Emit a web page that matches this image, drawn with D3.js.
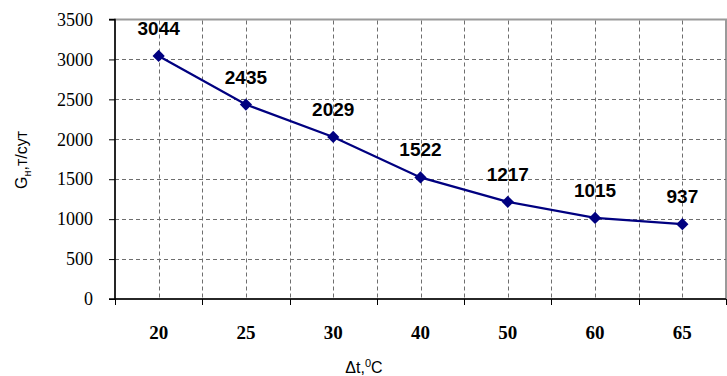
<!DOCTYPE html>
<html><head><meta charset="utf-8">
<script src="https://cdn.jsdelivr.net/npm/d3@7"></script>
<style>body{margin:0;background:#fff}svg{display:block}</style>
</head><body>
<svg id="c" width="727" height="376"></svg>
<script>
const categories = ["20","25","30","40","50","60","65"];
const values = [3044,2435,2029,1522,1217,1015,937];
const yTicks = [0,500,1000,1500,2000,2500,3000,3500];

const svg = d3.select("#c");
const L=115, R=726, T=19.5, B=299;
const x = d3.scaleBand().domain(categories).range([L,R]).padding(0);
const y = d3.scaleLinear().domain([0,3500]).range([B,T]);
const cx = d => x(d)+x.bandwidth()/2;

// plot border (gray)
svg.append("rect").attr("x",L).attr("y",T).attr("width",R-L).attr("height",B-T)
  .attr("fill","none").attr("stroke","#9a9a9a").attr("stroke-width",2);

const grid = svg.append("g");
const hl = yTicks.filter(v=>v>0 && v<3500);
grid.selectAll("line.h").data(hl).join("line").attr("class","h")
  .attr("x1",L).attr("x2",R).attr("y1",d=>Math.round(y(d))+0.5).attr("y2",d=>Math.round(y(d))+0.5)
  .attr("stroke","#6e6e6e").attr("stroke-width",1).attr("stroke-dasharray","4,3");
const vpos = [];
categories.forEach((c,i)=>{ vpos.push(cx(c)); if(i>0) vpos.push(x(c)); });
grid.selectAll("line.v").data(vpos).join("line").attr("class","v")
  .attr("x1",d=>Math.round(d)+0.5).attr("x2",d=>Math.round(d)+0.5).attr("y1",T+1).attr("y2",B)
  .attr("stroke","#6e6e6e").attr("stroke-width",1).attr("stroke-dasharray","4,3");

// y axis
const yAxis = d3.axisLeft(y).tickValues(yTicks).tickSize(6).tickPadding(16).tickFormat(d3.format("d"));
const gy = svg.append("g").attr("transform",`translate(${L},0)`).call(yAxis);
gy.select(".domain").attr("stroke","#000").attr("stroke-width",1.5).attr("d",`M-6,${T}H0V${B}H-6`);
gy.selectAll(".tick line").attr("stroke","#000");
gy.selectAll("text").attr("font-family","'Liberation Serif','Times New Roman',serif").attr("font-size",18).attr("fill","#000");

// x axis
const xAxis = d3.axisBottom(x).tickSize(0).tickPadding(27);
const gx = svg.append("g").attr("transform",`translate(0,${B})`).call(xAxis);
gx.select(".domain").attr("stroke","#000").attr("stroke-width",1.5).attr("d",`M${L},0H${R}`);
gx.selectAll("text").attr("font-family","'Liberation Serif','Times New Roman',serif").attr("font-size",19)
  .attr("font-weight","bold").attr("fill","#000");
gx.selectAll("line.bt").data(categories.slice(1).map(c=>x(c)).concat([L,R])).join("line").attr("class","bt")
  .attr("x1",d=>Math.round(d)+0.5).attr("x2",d=>Math.round(d)+0.5).attr("y1",0).attr("y2",6).attr("stroke","#000");

// line
const line = d3.line().x((d,i)=>cx(categories[i])).y(d=>y(d));
svg.append("path").datum(values).attr("d",line).attr("fill","none").attr("stroke","#000080").attr("stroke-width",2.3);
svg.selectAll("path.m").data(values).join("path").attr("class","m")
  .attr("d",d3.symbol().type(d3.symbolDiamond2).size(95))
  .attr("transform",(d,i)=>`translate(${cx(categories[i])},${y(d)})`).attr("fill","#000080");

// labels
svg.selectAll("text.lbl").data(values).join("text").attr("class","lbl")
  .attr("x",(d,i)=>cx(categories[i])).attr("y",d=>y(d)-21)
  .attr("text-anchor","middle").attr("font-family","'Liberation Sans',Arial,sans-serif")
  .attr("font-size",19).attr("font-weight","bold").text(d=>d);

// axis titles
const yt = svg.append("text").attr("transform","translate(27,160) rotate(-90)").attr("text-anchor","middle")
  .attr("font-family","'Liberation Sans',Arial,sans-serif").attr("font-size",16);
yt.append("tspan").text("G");
yt.append("tspan").attr("font-size",11).attr("dy",4).text("н");
yt.append("tspan").attr("dy",-4).text(",т/сут");

const xt = svg.append("text").attr("x",364).attr("y",373).attr("text-anchor","middle")
  .attr("font-family","'Liberation Sans',Arial,sans-serif").attr("font-size",16);
xt.append("tspan").text("Δt,");
xt.append("tspan").attr("font-size",11).attr("dy",-6).text("0");
xt.append("tspan").attr("dy",6).text("C");
</script>
</body></html>
